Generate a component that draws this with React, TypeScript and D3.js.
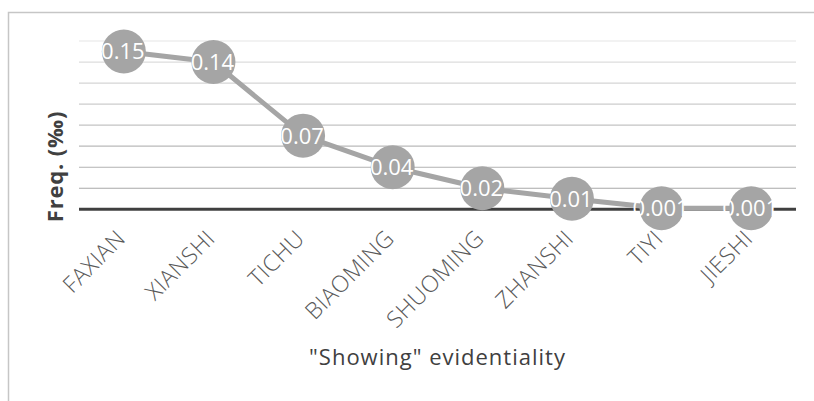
import React from "react";
import * as d3 from "d3";

// Evidential "showing" verbs and their frequencies (per mille)
const categories = ["FAXIAN", "XIANSHI", "TICHU", "BIAOMING", "SHUOMING", "ZHANSHI", "TIYI", "JIESHI"];
const values = [0.15, 0.14, 0.07, 0.04, 0.02, 0.01, 0.001, 0.001];
const valueLabels = ["0.15", "0.14", "0.07", "0.04", "0.02", "0.01", "0.001", "0.001"];
const gridTicks = [0.02, 0.04, 0.06, 0.08, 0.1, 0.12, 0.14, 0.16];

const W = 814;
const H = 401;
const plotLeft = 79;
const plotRight = 796;
const plotTop = 41;
const plotBottom = 209.3;
const font = "'Open Sans', 'Noto Sans', sans-serif";

export default function App() {
  const x = d3.scaleBand<string>().domain(categories).range([plotLeft, plotRight]);
  const y = d3.scaleLinear().domain([0, 0.16]).range([plotBottom, plotTop]);
  const cx = (c: string) => (x(c) ?? 0) + x.bandwidth() / 2;

  const gridColor = d3.scaleLinear<string>().domain([0.16, 0.02]).range(["#e6e6e6", "#a9a9a9"]);

  const line = d3
    .line<number>()
    .x((_, i) => cx(categories[i]))
    .y((d) => y(d));

  return (
    <svg
      width={W}
      height={H}
      style={{ position: "absolute", left: 0, top: 0, background: "#fff" }}
    >
      <rect x={8.5} y={12.5} width={830} height={420} fill="#fff" stroke="#c6c6c6" strokeWidth={1.5} />

      {gridTicks.map((t) => (
        <line
          key={t}
          x1={plotLeft}
          x2={plotRight}
          y1={y(t)}
          y2={y(t)}
          stroke={gridColor(t)}
          strokeWidth={1.2}
        />
      ))}

      <line x1={plotLeft} x2={plotRight} y1={y(0)} y2={y(0)} stroke="#404040" strokeWidth={3} />

      <path d={line(values) ?? ""} fill="none" stroke="#a5a5a5" strokeWidth={5} strokeLinejoin="round" />

      {values.map((v, i) => (
        <g key={categories[i]}>
          <circle cx={cx(categories[i])} cy={y(v)} r={22} fill="#a5a5a5" />
          <text
            x={cx(categories[i]) - 1}
            y={y(v)}
            dy="0.36em"
            textAnchor="middle"
            fill="#fff"
            fontFamily={font}
            fontSize={22}
          >
            {valueLabels[i]}
          </text>
        </g>
      ))}

      {categories.map((c) => (
        <text
          key={c}
          transform={`translate(${cx(c) + 3},${240}) rotate(-45)`}
          textAnchor="end"
          fill="#595959"
          fontFamily={font}
          fontWeight={300}
          fontSize={23}
          letterSpacing={0.5}
        >
          {c}
        </text>
      ))}

      <text
        transform={`translate(63,166.5) rotate(-90)`}
        textAnchor="middle"
        fill="#404040"
        fontFamily={font}
        fontWeight={700}
        fontSize={22}
        letterSpacing={0.8}
      >
        Freq. (‰)
      </text>

      <text
        x={(plotLeft + plotRight) / 2}
        y={365}
        textAnchor="middle"
        fill="#404040"
        fontFamily={font}
        fontSize={22}
        letterSpacing={1}
      >
        "Showing" evidentiality
      </text>
    </svg>
  );
}
